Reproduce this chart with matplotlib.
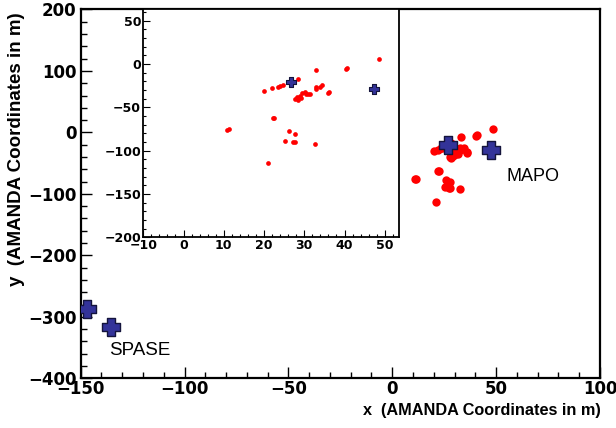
import matplotlib
matplotlib.use("Agg")
import matplotlib.pyplot as plt
from matplotlib.ticker import MultipleLocator

# hit positions (red)
red_x = [48.5, 40.3, 40.7, 33.0, 28.5, 20.1, 21.9, 23.4, 24.0, 24.7,
         32.8, 33.8, 34.5, 32.8, 35.9, 36.2, 27.6, 28.4, 28.2, 28.9,
         29.5, 30.1, 30.3, 30.9, 31.5, 29.3, 22.2, 22.5, 10.8, 11.2,
         26.1, 27.7, 25.3, 27.2, 27.7, 32.7, 21.0]
red_y = [6.0, -5.2, -5.0, -6.7, -17.1, -30.6, -27.9, -26.0, -25.2, -24.5,
         -26.0, -26.3, -24.8, -29.4, -33.3, -32.1, -40.2, -41.8, -37.9, -36.4,
         -33.3, -31.8, -34.4, -35.2, -34.4, -39.0, -62.6, -62.1, -76.4, -75.3,
         -77.9, -81.0, -88.3, -89.8, -90.3, -91.8, -114.0]

# detector stations (blue crosses)
mapo_x = [26.8, 47.4]
mapo_y = [-21.0, -29.0]
spase_x = [-146.8, -135.6]
spase_y = [-287.8, -316.0]

RED = "#ff0000"
BLUE = "#333399"
BLUE_EDGE = "#14143c"
TICKFONT = "DejaVu Sans"

# chunky plus, like ROOT's full cross
a = 0.45
CROSS = [(-a, -1), (a, -1), (a, -a), (1, -a), (1, a), (a, a), (a, 1),
         (-a, 1), (-a, a), (-1, a), (-1, -a), (-a, -a), (-a, -1)]

plt.rcParams["font.family"] = ["Liberation Sans", "DejaVu Sans"]

fig = plt.figure(figsize=(6.16, 4.28), dpi=100)

# main frame
ax = fig.add_axes([0.131, 0.116, 0.843, 0.862])
ax.plot(red_x, red_y, "o", color=RED, ms=6, mew=0, zorder=2)
ax.plot(mapo_x + spase_x, mapo_y + spase_y, ls="none", marker=CROSS,
        color=BLUE, mec=BLUE_EDGE, mew=1.0, ms=12.5, zorder=3)
ax.set_xlim(-150, 100)
ax.set_ylim(-400, 200)
ax.xaxis.set_major_locator(MultipleLocator(50))
ax.xaxis.set_minor_locator(MultipleLocator(10))
ax.yaxis.set_major_locator(MultipleLocator(100))
ax.yaxis.set_minor_locator(MultipleLocator(20))
ax.tick_params(which="both", direction="in", top=False, right=False, width=1)
ax.tick_params(which="major", length=8)
ax.tick_params(which="minor", length=4)
ax.tick_params(axis="x", pad=1)
ax.tick_params(axis="y", pad=3)
for lab in ax.get_xticklabels() + ax.get_yticklabels():
    lab.set_family(TICKFONT)
    lab.set_fontweight("bold")
    lab.set_fontsize(12)
for sp in ax.spines.values():
    sp.set_linewidth(1.6)

ax.text(54.8, -71, "MAPO", fontsize=13, va="center", ha="left")
ax.text(-136.4, -354, "SPASE", fontsize=13.5, va="center", ha="left")

fig.text(0.976, 0.042, "x  (AMANDA Coordinates in m)", ha="right",
         va="center", fontsize=11.7, fontweight="bold")
fig.text(0.026, 0.97, "y  (AMANDA Coordinates in m)", ha="center",
         va="top", rotation=90, fontsize=13.5, fontweight="bold")

# zoomed inset on the MAPO region
ins = fig.add_axes([0.2326, 0.4456, 0.4156, 0.5324])
ins.plot(red_x, red_y, "o", color=RED, ms=3.4, mew=0, zorder=2)
ins.plot(mapo_x, mapo_y, ls="none", marker=CROSS, color=BLUE, mec=BLUE_EDGE,
         mew=0.8, ms=6.5, zorder=3)
ins.set_xlim(-10, 53.6)
ins.set_ylim(-200, 63)
ins.xaxis.set_major_locator(MultipleLocator(10))
ins.xaxis.set_minor_locator(MultipleLocator(2))
ins.yaxis.set_major_locator(MultipleLocator(50))
ins.yaxis.set_minor_locator(MultipleLocator(10))
ins.tick_params(which="both", direction="in", top=False, right=False,
                pad=1.5, width=0.8)
ins.tick_params(which="major", length=5)
ins.tick_params(which="minor", length=2.5)
for lab in ins.get_xticklabels() + ins.get_yticklabels():
    lab.set_family(TICKFONT)
    lab.set_fontweight("bold")
    lab.set_fontsize(9)
for sp in ins.spines.values():
    sp.set_linewidth(1.3)

fig.savefig("out.png", dpi=100)
